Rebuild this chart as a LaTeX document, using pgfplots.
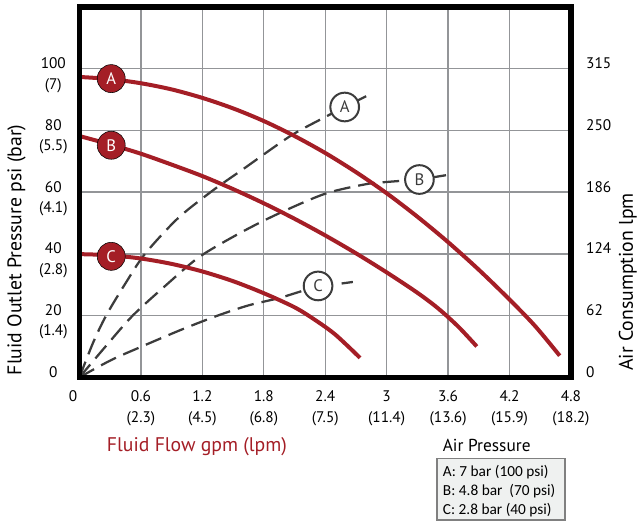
\documentclass[border=0pt]{standalone}
\usepackage{pgfplots}
\pgfplotsset{compat=1.18}
\usepackage{fontspec}
\setmainfont{PT Sans}
\newfontfamily\calfont{Carlito}
\definecolor{cred}{RGB}{164,30,38}
\definecolor{dgray}{RGB}{60,60,60}
\definecolor{gridgray}{RGB}{147,149,152}
\definecolor{boxfill}{RGB}{239,241,240}
\definecolor{boxline}{RGB}{128,128,128}
\newcommand\tl[2]{\vtop{\baselineskip=15.3pt\halign{\hfil##\hfil\cr#1\cr#2\cr}}}
\newcommand\tickfont{\fontsize{11.5}{14}\selectfont}
\newcommand\labfont{\fontsize{14.8}{17}\selectfont}
\begin{document}
\begin{tikzpicture}
\begin{axis}[
  name=main,
  at={(0pt,0pt)}, anchor=south west,
  scale only axis, width=368.6pt, height=277.7pt,
  xmin=0, xmax=4.8, ymin=0, ymax=120,
  xtick={0,0.6,1.2,1.8,2.4,3,3.6,4.2,4.8},
  xticklabels={\hbox to 0pt{\hss 0\kern1.75pt}, \tl{0.6}{(2.3)}, \tl{1.2}{(4.5)}, \tl{1.8}{(6.8)}, \tl{2.4}{(7.5)}, \tl{3}{(11.4)}, \tl{3.6}{(13.6)}, \tl{4.2}{(15.9)}, \tl{4.8}{(18.2)}},
  ytick={0,20,40,60,80,100},
  yticklabels={0, \tl{20}{(1.4)}, \tl{40}{(2.8)}, \tl{60}{(4.1)}, \tl{80}{(5.5)}, \tl{100}{(7)}},
  grid=major, grid style={gridgray, line width=1pt},
  major tick length=0pt,
  axis line style={draw=none},
  xticklabel style={anchor=base, inner sep=0pt, yshift=-18.3pt, font=\tickfont},
  yticklabel style={anchor=base, inner sep=0pt, xshift=-19.65pt, font=\tickfont},
  clip=false,
]
% air consumption (dashed)
\addplot[dgray, line width=1.7pt, dash pattern=on 12.5pt off 6pt, smooth] coordinates {
 (0,0) (0.13,11) (0.26,20) (0.45,30.5) (0.64,40) (0.96,51.5) (1.3,60.5) (1.6,67.5) (2.05,78) (2.35,83.5) (2.59,87.6)};
\addplot[dgray, line width=1.7pt] coordinates {(2.59,87.6) (2.80,91.1)};
\addplot[dgray, line width=1.7pt, dash pattern=on 12.5pt off 6pt, smooth] coordinates {
 (0,0) (0.26,10.2) (0.52,20) (0.85,30) (1.17,39) (1.57,46.8) (1.94,53) (2.4,59.5) (2.8,62.6) (3.0,63.3) (3.32,64.1)};
\addplot[dgray, line width=1.7pt] coordinates {(3.32,64.1) (3.58,65.5)};
\addplot[dgray, line width=1.7pt, dash pattern=on 12.5pt off 6pt, smooth] coordinates {
 (0,0) (0.31,5.6) (0.61,10) (1.0,15.5) (1.35,20) (1.65,23.3) (1.94,25.6) (2.1,27.2) (2.33,29.6)};
\addplot[dgray, line width=1.7pt] coordinates {(2.56,30.4) (2.67,30.9)};
% fluid pressure (red)
\addplot[cred, line width=3pt, smooth] coordinates {
 (0.02,97.3) (0.3,96.65) (0.6,95.3) (0.9,93.3) (1.2,90.55) (1.5,87.15) (1.8,83.05) (2.1,78.2) (2.4,72.7) (2.7,66.5) (3.0,59.65) (3.3,52.05) (3.6,43.8) (3.9,34.85) (4.2,25.2) (4.45,16.6) (4.69,7.0)};
\addplot[cred, line width=3pt, smooth] coordinates {
 (0.02,78.0) (0.3,75.47) (0.6,72.45) (0.9,68.93) (1.2,65.21) (1.5,60.99) (1.8,56.39) (2.1,51.38) (2.4,45.98) (2.7,40.19) (3.0,34.0) (3.3,27.4) (3.5,22.4) (3.7,16.4) (3.88,10.0)};
\addplot[cred, line width=3pt, smooth] coordinates {
 (0.02,39.9) (0.3,39.55) (0.6,38.5) (0.9,36.75) (1.2,34.3) (1.5,31.15) (1.8,27.25) (2.1,22.7) (2.3,18.6) (2.5,13.8) (2.74,6.3)};
% markers
\addplot[only marks, mark=*, mark size=10.5pt, mark options={fill=cred, draw=none},
  nodes near coords, point meta=explicit symbolic, nodes near coords align={center},
  every node near coord/.append style={anchor=center, text=white, font=\fontsize{12.5}{14}\selectfont}]
  coordinates {(0.31,96.8)[A] (0.31,75.2)[B] (0.31,39.2)[C]};
\addplot[only marks, mark=*, mark size=10.75pt, mark options={fill=white, draw=dgray, line width=1.5pt},
  nodes near coords, point meta=explicit symbolic, nodes near coords align={center},
  every node near coord/.append style={anchor=center, text=dgray, font=\fontsize{12.5}{14}\selectfont}]
  coordinates {(2.59,87.6)[A] (3.32,64.1)[B] (2.33,29.6)[C]};
\end{axis}
\begin{axis}[
  at={(0pt,0pt)}, anchor=south west,
  scale only axis, width=368.6pt, height=277.7pt,
  xmin=0, xmax=4.8, ymin=0, ymax=120,
  axis x line=none, axis y line*=right,
  y axis line style={draw=none},
  ytick={0,20,40,60,80,100},
  yticklabels={0,62,124,186,250,315},
  major tick length=0pt,
  yticklabel style={anchor=base west, inner sep=0pt, xshift=11.25pt, font=\tickfont},
]
\end{axis}
\draw[black, line width=4pt] (main.south west) rectangle (main.north east);
\node[rotate=90, font=\labfont] at (-47.25pt,95.5pt) {Fluid Outlet Pressure psi (bar)};
\node[rotate=90, font=\labfont, inner sep=1pt] at (411.2pt,71.5pt) {Air Consumption lpm};
\node[anchor=base, text=cred, font=\labfont] at (88.1pt,-55.3pt) {Fluid Flow gpm (lpm)};
\node[anchor=base, font=\fontsize{13}{16}\selectfont] at (305.4pt,-55.8pt) {Air Pressure};
\draw[boxline, fill=boxfill, line width=1.2pt] (268.1pt,-60.8pt) rectangle (364.1pt,-107pt);
\node[anchor=base west, inner sep=0pt, font=\calfont\fontsize{11.5}{14}\selectfont] at (272.4pt,-74.55pt) {A: 7 bar (100 psi)};
\node[anchor=base west, inner sep=0pt, font=\calfont\fontsize{11.5}{14}\selectfont] at (272.4pt,-88.5pt) {B: 4.8 bar\ \ (70 psi)};
\node[anchor=base west, inner sep=0pt, font=\calfont\fontsize{11.5}{14}\selectfont] at (272.4pt,-102.75pt) {C: 2.8 bar (40 psi)};
\pgfresetboundingbox
\path (-59.625pt,-107.775pt) rectangle (420.375pt,282.975pt);
\end{tikzpicture}
\end{document}
